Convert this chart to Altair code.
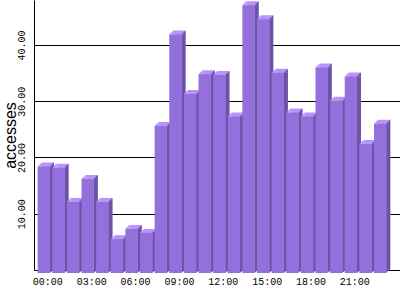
import altair as alt
import pandas as pd

hours = [f"{h:02d}:00" for h in range(24)]
values = [19.1, 18.9, 12.8, 16.9, 12.8, 6.2, 8.0, 7.3,
          26.3, 42.6, 32.0, 35.5, 35.4, 28.0, 47.8, 45.3,
          35.8, 28.7, 28.0, 36.7, 30.8, 35.1, 23.1, 26.7]
label_hours = [hours[i] for i in range(0, 24, 3)]
y_ticks = [10, 20, 30, 40]

FRONT = "#9370DB"
SIDE = "#6B54A6"
TOP = "#B894FA"

df = pd.DataFrame({"hour": hours, "value": values, "zero": [0] * len(hours)})

xscale = alt.Scale(domain=hours, paddingInner=0.16, paddingOuter=0.595, align=0.44)
yscale = alt.Scale(domain=[0, 48], nice=False, zero=True)

xaxis = alt.Axis(values=label_hours, labelAngle=0, ticks=False, tickSize=0, grid=False,
                 domain=True, domainColor="black", domainWidth=1, title=None,
                 labelFont="Liberation Mono", labelFontSize=10, labelColor="black",
                 labelPadding=6)
yaxis = alt.Axis(values=y_ticks, format=".2f", labelAngle=270, ticks=False, tickSize=0,
                 grid=True, gridColor="black", gridOpacity=1, gridWidth=1,
                 domain=True, domainColor="black", domainWidth=1,
                 labelFont="Liberation Mono", labelFontSize=10, labelColor="black",
                 labelAlign="center", labelBaseline="bottom", labelPadding=8,
                 title="accesses", titleFont="Liberation Sans", titleFontSize=16,
                 titleFontWeight="normal", titleColor="black", titlePadding=-2)

X = lambda **kw: alt.X("hour:N", scale=xscale, axis=xaxis, sort=hours, **kw)
Yv = alt.Y("value:Q", scale=yscale, axis=yaxis)
Yz = alt.Y("zero:Q", scale=yscale, axis=yaxis)

base = alt.Chart(df)

back = base.mark_bar(color=TOP, y2Offset=-1).encode(
    x=X(), y=Yv, y2=alt.Y2("zero:Q"),
)
side = base.mark_rule(color=SIDE, strokeWidth=4, xOffset=-2, yOffset=4, y2Offset=-1).encode(
    x=X(bandPosition=1), y=Yv, y2=alt.Y2("zero:Q"),
)
tri_lr = "M-1,1L1,-1L1,1Z"
tri_ul = "M-1,-1L1,-1L-1,1Z"
left_corner = base.mark_point(shape=tri_lr, size=16, filled=True, opacity=1, strokeWidth=0,
                              color=TOP, xOffset=-2, yOffset=2).encode(
    x=X(bandPosition=0), y=Yv,
)
right_corner = base.mark_point(shape=tri_lr, size=16, filled=True, opacity=1, strokeWidth=0,
                               color=SIDE, xOffset=-2, yOffset=2).encode(
    x=X(bandPosition=1), y=Yv,
)
bottom_corner = base.mark_point(shape=tri_ul, size=16, filled=True, opacity=1, strokeWidth=0,
                                color=SIDE, xOffset=-2, yOffset=1).encode(
    x=X(bandPosition=1), y=Yz,
)
front = base.mark_bar(color=FRONT, xOffset=-4, x2Offset=-4, yOffset=4, y2Offset=3).encode(
    x=X(), y=Yv, y2=alt.Y2("zero:Q"),
)

chart = alt.layer(back, side, left_corner, right_corner, bottom_corner, front).properties(
    width=366, height=270,
    autosize=alt.AutoSizeParams(type="none"),
    padding={"left": 34, "top": 0, "right": 0, "bottom": 30},
    background="white",
).configure_view(stroke=None)

chart.save("out.html", embed_options={"renderer": "svg", "actions": False})
